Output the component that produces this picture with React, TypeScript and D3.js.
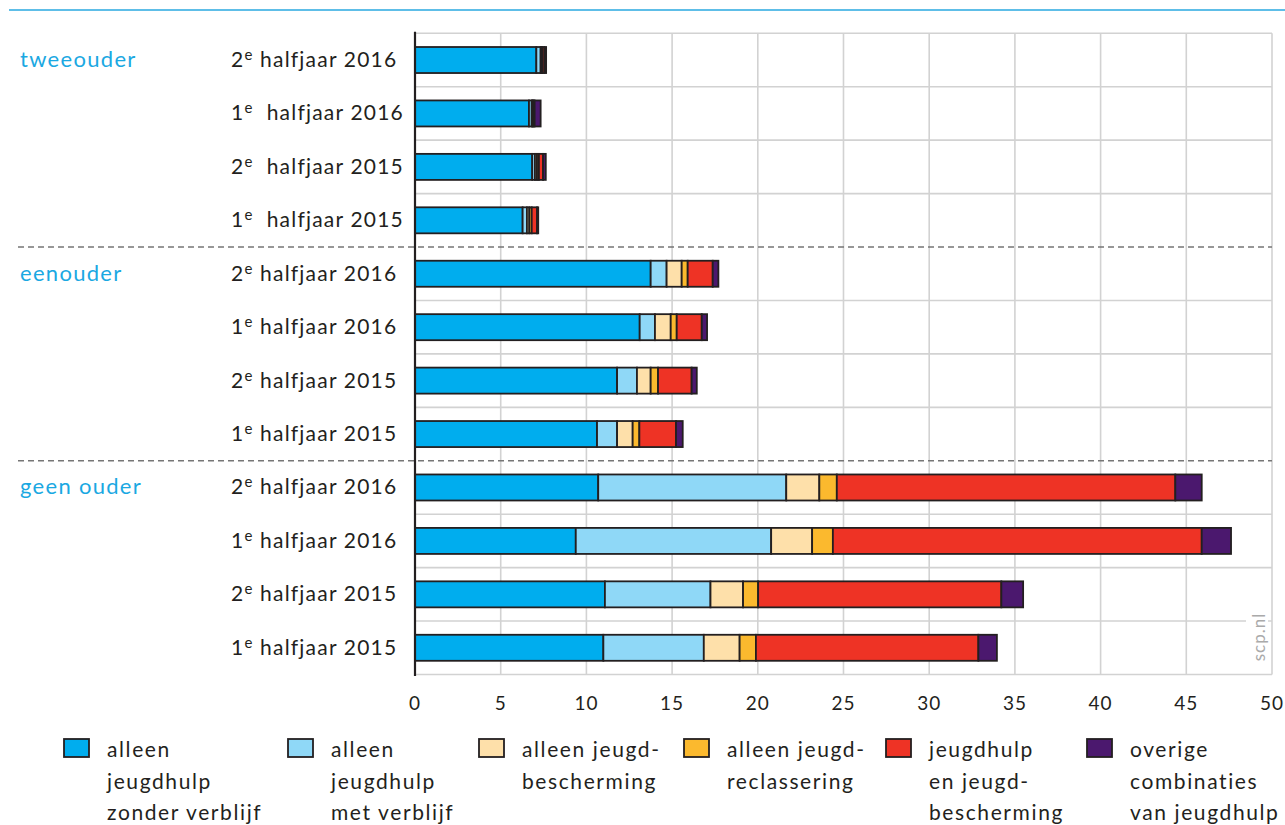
import React, { useEffect, useRef } from 'react';
import * as d3 from 'd3';

// groups and periods (rows top to bottom)
const groups = ['tweeouder', 'eenouder', 'geen ouder'];
const rowOrdinals = ['2', '1', '2', '1', '2', '1', '2', '1', '2', '1', '2', '1'];
const rowRest = [
  ' halfjaar 2016', '  halfjaar 2016', '  halfjaar 2015', '  halfjaar 2015',
  ' halfjaar 2016', ' halfjaar 2016', ' halfjaar 2015', ' halfjaar 2015',
  ' halfjaar 2016', ' halfjaar 2016', ' halfjaar 2015', ' halfjaar 2015',
];

// series values (percent), one per row
const zonderVerblijf = [7.08, 6.65, 6.84, 6.28, 13.75, 13.11, 11.79, 10.62, 10.69, 9.38, 11.08, 10.99];
const metVerblijf = [0.25, 0.16, 0.16, 0.25, 0.93, 0.89, 1.16, 1.17, 10.97, 11.4, 6.16, 5.86];
const jeugdbescherming = [0.05, 0.05, 0.12, 0.14, 0.88, 0.92, 0.8, 0.91, 1.93, 2.39, 1.9, 2.09];
const reclassering = [0.05, 0.05, 0.11, 0.14, 0.35, 0.35, 0.43, 0.39, 1.02, 1.21, 0.88, 0.95];
const hulpEnBescherming = [0.12, 0.07, 0.24, 0.31, 1.46, 1.46, 1.96, 2.14, 19.75, 21.52, 14.19, 12.98];
const overige = [0.1, 0.35, 0.16, 0.07, 0.33, 0.31, 0.3, 0.39, 1.54, 1.71, 1.27, 1.08];

const seriesKeys = ['zv', 'mv', 'jb', 'rc', 'hb', 'ov'];
const seriesValues = [zonderVerblijf, metVerblijf, jeugdbescherming, reclassering, hulpEnBescherming, overige];
const seriesColors = ['#00adee', '#8fd8f7', '#fee0aa', '#fbb92e', '#ee3325', '#4b186e'];
const legendLabels = [
  ['alleen', 'jeugdhulp', 'zonder verblijf'],
  ['alleen', 'jeugdhulp', 'met verblijf'],
  ['alleen jeugd-', 'bescherming'],
  ['alleen jeugd-', 'reclassering'],
  ['jeugdhulp', 'en jeugd-', 'bescherming'],
  ['overige', 'combinaties', 'van jeugdhulp'],
];
const xTicks = [0, 5, 10, 15, 20, 25, 30, 35, 40, 45, 50];

const FONT = 'Lato, "Open Sans", sans-serif';

const App: React.FC = () => {
  const svgRef = useRef<SVGSVGElement>(null);

  useEffect(() => {
    const svg = d3.select(svgRef.current);
    svg.selectAll('*').remove();

    const W = 1285;
    const H = 825;
    const top = 33.3;
    const bottom = 674.5;

    const x = d3.scaleLinear().domain([0, 50]).range([415, 1272]);
    const rows = d3.range(12);
    const y = d3.scaleBand<number>()
      .domain(rows)
      .range([top, bottom])
      .paddingInner(0.513)
      .paddingOuter(0.2565);
    const step = y.step();

    svg.append('rect').attr('width', W).attr('height', H).attr('fill', '#fff');

    // top rule
    svg.append('line')
      .attr('x1', 9).attr('x2', W).attr('y1', 10).attr('y2', 10)
      .attr('stroke', '#29a8e0').attr('stroke-width', 1.5);

    // grid
    const grid = svg.append('g').attr('stroke', '#d2d2d2').attr('stroke-width', 1.6);
    xTicks.filter(t => t > 0).forEach(t => {
      grid.append('line')
        .attr('x1', x(t)).attr('x2', x(t))
        .attr('y1', top).attr('y2', bottom);
    });
    d3.range(13).filter(i => i !== 4 && i !== 8).forEach(i => {
      grid.append('line')
        .attr('x1', x(0)).attr('x2', x(50))
        .attr('y1', top + i * step).attr('y2', top + i * step);
    });

    // group separators
    [4, 8].forEach(i => {
      svg.append('line')
        .attr('x1', 18).attr('x2', x(50))
        .attr('y1', top + i * step).attr('y2', top + i * step)
        .attr('stroke', '#767676').attr('stroke-width', 1.5)
        .attr('stroke-dasharray', '6,4');
    });

    // watermark
    svg.append('rect')
      .attr('x', 1246).attr('y', 600).attr('width', 22).attr('height', 72)
      .attr('fill', '#fff');
    svg.append('text')
      .attr('transform', 'translate(1265,637) rotate(-90)')
      .attr('text-anchor', 'middle')
      .style('font-family', FONT)
      .style('font-size', '17px')
      .style('letter-spacing', '1px')
      .attr('fill', '#aaa')
      .text('scp.nl');

    // stacked bars
    const table = rows.map(r => {
      const o: Record<string, number> = { row: r };
      seriesKeys.forEach((k, j) => { o[k] = seriesValues[j][r]; });
      return o;
    });
    const stacked = d3.stack<Record<string, number>>().keys(seriesKeys)(table);

    stacked.forEach((layer, j) => {
      svg.append('g')
        .selectAll('rect')
        .data(layer)
        .enter()
        .append('rect')
        .attr('x', d => x(d[0]))
        .attr('y', d => y(d.data.row) as number)
        .attr('width', d => Math.max(0, x(d[1]) - x(d[0])))
        .attr('height', y.bandwidth())
        .attr('fill', seriesColors[j])
        .attr('stroke', '#231f20')
        .attr('stroke-width', 1.8);
    });

    // axis line
    svg.append('line')
      .attr('x1', x(0)).attr('x2', x(0))
      .attr('y1', top - 1.5).attr('y2', bottom + 1.5)
      .attr('stroke', '#231f20').attr('stroke-width', 2.2);

    // x tick labels
    svg.append('g')
      .selectAll('text')
      .data(xTicks)
      .enter()
      .append('text')
      .attr('x', d => x(d))
      .attr('y', 710)
      .attr('text-anchor', 'middle')
      .style('font-family', FONT)
      .style('font-size', '19px')
      .style('letter-spacing', '1px')
      .attr('fill', '#231f20')
      .text(d => String(d));

    // group labels
    groups.forEach((g, gi) => {
      const r = gi * 4;
      svg.append('text')
        .attr('x', 20)
        .attr('y', (y(r) as number) + y.bandwidth() / 2 + 7)
        .style('font-family', FONT)
        .style('font-size', '22px')
        .style('letter-spacing', '1.3px')
        .attr('fill', '#1aa8e2')
        .text(g);
    });

    // row labels
    rows.forEach(r => {
      const t = svg.append('text')
        .attr('x', 231)
        .attr('y', (y(r) as number) + y.bandwidth() / 2 + 7)
        .style('font-family', FONT)
        .style('font-size', '21px')
        .style('letter-spacing', '1.2px')
        .style('white-space', 'pre')
        .attr('fill', '#231f20');
      t.append('tspan').text(rowOrdinals[r]);
      t.append('tspan').attr('dy', -7).style('font-size', '15px').text('e');
      t.append('tspan').attr('dy', 7).text(rowRest[r]);
    });

    // legend
    const legendX = [64, 288, 479, 684, 886, 1087];
    legendLabels.forEach((lines, i) => {
      const g = svg.append('g').attr('transform', `translate(${legendX[i]},0)`);
      g.append('rect')
        .attr('x', 0).attr('y', 739)
        .attr('width', 25).attr('height', 18)
        .attr('fill', seriesColors[i])
        .attr('stroke', '#231f20').attr('stroke-width', 1.8);
      lines.forEach((line, li) => {
        g.append('text')
          .attr('x', 43)
          .attr('y', 757 + li * 31.5)
          .style('font-family', FONT)
          .style('font-size', '21px')
          .style('letter-spacing', '1.6px')
          .attr('fill', '#231f20')
          .text(line);
      });
    });
  }, []);

  return (
    <div style={{ position: 'absolute', left: 0, top: 0 }}>
      <svg ref={svgRef} width={1285} height={825} style={{ display: 'block' }}></svg>
    </div>
  );
};

export default App;
